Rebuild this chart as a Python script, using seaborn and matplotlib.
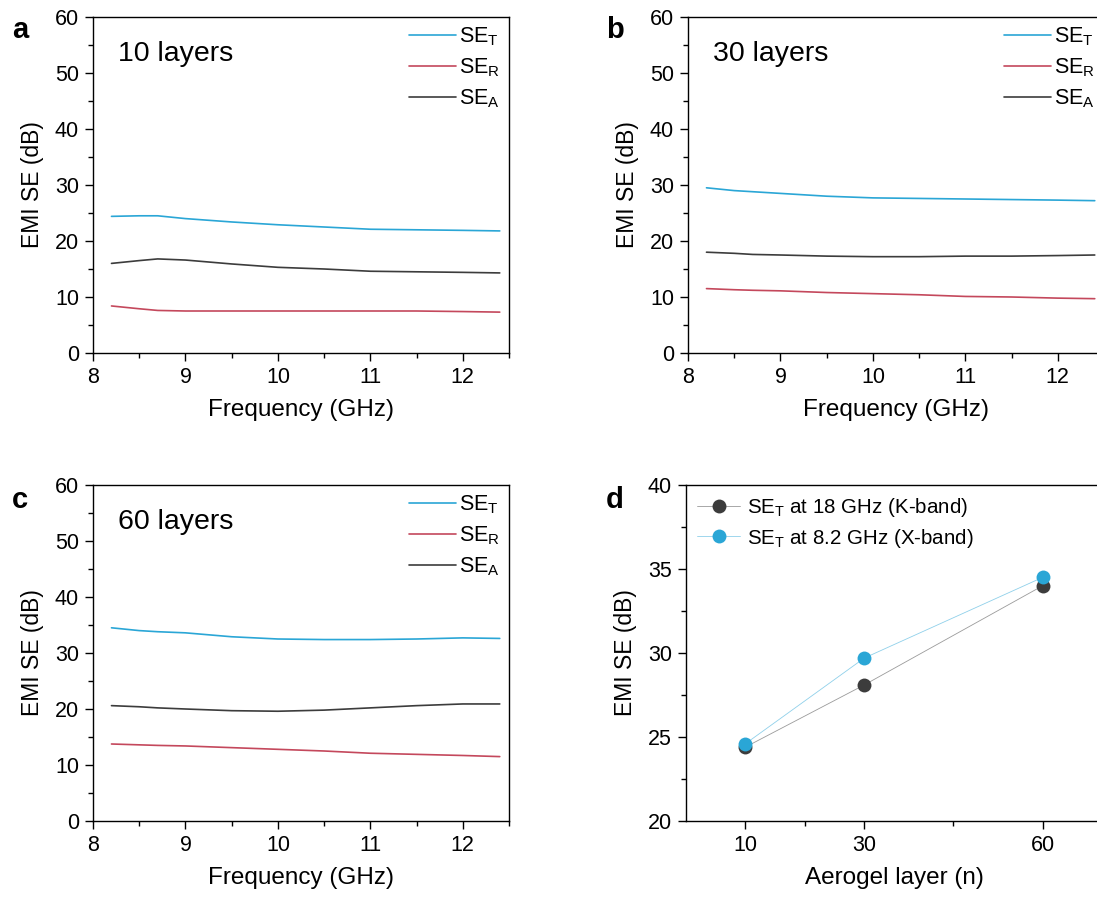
import numpy as np
import pandas as pd
import matplotlib
matplotlib.use("Agg")
import matplotlib.pyplot as plt
from matplotlib.ticker import MultipleLocator, FixedLocator
import seaborn as sns

# ---------------- data ----------------
freq = [8.2, 8.5, 8.7, 9.0, 9.5, 10.0, 10.5, 11.0, 11.5, 12.0, 12.4]

se_t_10 = [24.4, 24.5, 24.5, 24.0, 23.4, 22.9, 22.5, 22.1, 22.0, 21.9, 21.8]
se_r_10 = [8.4, 7.9, 7.6, 7.5, 7.5, 7.5, 7.5, 7.5, 7.5, 7.4, 7.3]
se_a_10 = [16.0, 16.5, 16.8, 16.6, 15.9, 15.3, 15.0, 14.6, 14.5, 14.4, 14.3]

se_t_30 = [29.5, 29.0, 28.8, 28.5, 28.0, 27.7, 27.6, 27.5, 27.4, 27.3, 27.2]
se_r_30 = [11.5, 11.3, 11.2, 11.1, 10.8, 10.6, 10.4, 10.1, 10.0, 9.8, 9.7]
se_a_30 = [18.0, 17.8, 17.6, 17.5, 17.3, 17.2, 17.2, 17.3, 17.3, 17.4, 17.5]

se_t_60 = [34.5, 34.0, 33.8, 33.6, 32.9, 32.5, 32.4, 32.4, 32.5, 32.7, 32.6]
se_r_60 = [13.75, 13.6, 13.5, 13.4, 13.1, 12.8, 12.5, 12.1, 11.9, 11.7, 11.5]
se_a_60 = [20.6, 20.4, 20.2, 20.0, 19.7, 19.6, 19.8, 20.2, 20.6, 20.9, 20.9]

layers = [10, 30, 60]
set_k_band = [24.4, 28.1, 34.0]
set_x_band = [24.6, 29.7, 34.5]

series_labels = [r"SE$_\mathrm{T}$", r"SE$_\mathrm{R}$", r"SE$_\mathrm{A}$"]
panel_titles = ["10 layers", "30 layers", "60 layers"]
legend_d = [r"SE$_\mathrm{T}$ at 18 GHz (K-band)", r"SE$_\mathrm{T}$ at 8.2 GHz (X-band)"]

# ---------------- style ----------------
sns.set_style("ticks")
plt.rcParams["font.family"] = ["Liberation Sans", "DejaVu Sans"]
plt.rcParams["mathtext.fontset"] = "custom"
plt.rcParams["mathtext.rm"] = "Liberation Sans"
plt.rcParams["mathtext.it"] = "Liberation Sans:italic"
plt.rcParams["axes.edgecolor"] = "black"
plt.rcParams["axes.linewidth"] = 1.0
plt.rcParams["xtick.color"] = "black"
plt.rcParams["ytick.color"] = "black"
plt.rcParams["text.color"] = "black"
plt.rcParams["axes.labelcolor"] = "black"

blue = "#2aa6d6"
red = "#c4485c"
dark = "#3c3c3c"

fig = plt.figure(figsize=(10.97, 8.97), dpi=100)
W, H = 1097, 897


def ax_rect(l, t, r, b):
    return [l / W, 1 - b / H, (r - l) / W, (b - t) / H]


ax_a = fig.add_axes(ax_rect(93, 17, 509, 353))
ax_b = fig.add_axes(ax_rect(688, 17, 1104, 353))
ax_c = fig.add_axes(ax_rect(93, 485, 509, 821))
ax_d = fig.add_axes(ax_rect(686, 485, 1102, 821))

tick_fs = 15.5
xlabel_fs = 17.5
ylabel_fs = 16.5


def style_ticks(ax):
    ax.tick_params(which="major", direction="out", length=6, width=1, labelsize=tick_fs, pad=4)
    ax.tick_params(which="minor", direction="out", length=3.5, width=1)


datasets = [
    (ax_a, [se_t_10, se_r_10, se_a_10]),
    (ax_b, [se_t_30, se_r_30, se_a_30]),
    (ax_c, [se_t_60, se_r_60, se_a_60]),
]
colors = [blue, red, dark]

for i, (ax, vals) in enumerate(datasets):
    rows = []
    for lab, v in zip(series_labels, vals):
        for f, y in zip(freq, v):
            rows.append({"Frequency": f, "SE": y, "Series": lab})
    df = pd.DataFrame(rows)
    sns.lineplot(data=df, x="Frequency", y="SE", hue="Series",
                 palette=dict(zip(series_labels, colors)), linewidth=1.2,
                 ax=ax, legend=True)
    ax.set_xlim(8, 12.5)
    ax.set_ylim(0, 60)
    ax.xaxis.set_major_locator(MultipleLocator(1))
    ax.xaxis.set_minor_locator(MultipleLocator(0.5))
    ax.yaxis.set_major_locator(MultipleLocator(10))
    ax.yaxis.set_minor_locator(MultipleLocator(5))
    style_ticks(ax)
    ax.set_xlabel("Frequency (GHz)", fontsize=xlabel_fs, labelpad=8)
    ax.set_ylabel("EMI SE (dB)", fontsize=ylabel_fs, labelpad=8)
    ax.text(0.06, 0.89, panel_titles[i], transform=ax.transAxes, fontsize=20.5,
            ha="left", va="center")
    leg = ax.legend(loc="upper right", frameon=False, fontsize=15.5,
                    handlelength=2.2, labelspacing=0.38, borderaxespad=0.0,
                    handletextpad=0.15, title=None)
    for line in leg.get_lines():
        line.set_linewidth(1.2)

# panel d
df_d = pd.DataFrame({
    "Layer": layers * 2,
    "SE": set_k_band + set_x_band,
    "Series": [legend_d[0]] * 3 + [legend_d[1]] * 3,
})
sns.lineplot(data=df_d, x="Layer", y="SE", hue="Series",
             palette={legend_d[0]: dark, legend_d[1]: blue},
             marker="o", markersize=10, markeredgewidth=0, linewidth=0.6,
             ax=ax_d, legend=True)
ax_d.get_lines()[0].set_color("#9a9a9a")
ax_d.get_lines()[0].set_markerfacecolor(dark)
ax_d.get_lines()[1].set_color("#8fd0ea")
ax_d.get_lines()[1].set_markerfacecolor(blue)
ax_d.set_xlim(0, 70)
ax_d.set_ylim(20, 40)
ax_d.xaxis.set_major_locator(FixedLocator(layers))
ax_d.xaxis.set_minor_locator(FixedLocator([20, 45]))
ax_d.yaxis.set_major_locator(MultipleLocator(5))
ax_d.yaxis.set_minor_locator(MultipleLocator(2.5))
style_ticks(ax_d)
ax_d.set_xlabel("Aerogel layer (n)", fontsize=xlabel_fs, labelpad=8)
ax_d.set_ylabel("EMI SE (dB)", fontsize=ylabel_fs, labelpad=8)
legd = ax_d.legend(loc="upper left", frameon=False, fontsize=14.8,
                   handlelength=2.1, labelspacing=0.35, borderaxespad=0.15,
                   handletextpad=0.3)
legd_lines = legd.get_lines()
legd_lines[0].set_color("#9a9a9a")
legd_lines[0].set_markerfacecolor(dark)
legd_lines[0].set_markeredgecolor(dark)
legd_lines[1].set_color("#8fd0ea")
legd_lines[1].set_markerfacecolor(blue)
legd_lines[1].set_markeredgecolor(blue)

for ax in [ax_a, ax_b, ax_c, ax_d]:
    for s in ax.spines.values():
        s.set_visible(True)
        s.set_color("black")

# panel letters
for letter, (x, y) in zip("abcd", [(12, 30), (606, 30), (12, 500), (606, 500)]):
    fig.text(x / W, 1 - y / H, letter, fontsize=21, fontweight="bold",
             ha="left", va="center")

fig.savefig("out.png", dpi=100)
